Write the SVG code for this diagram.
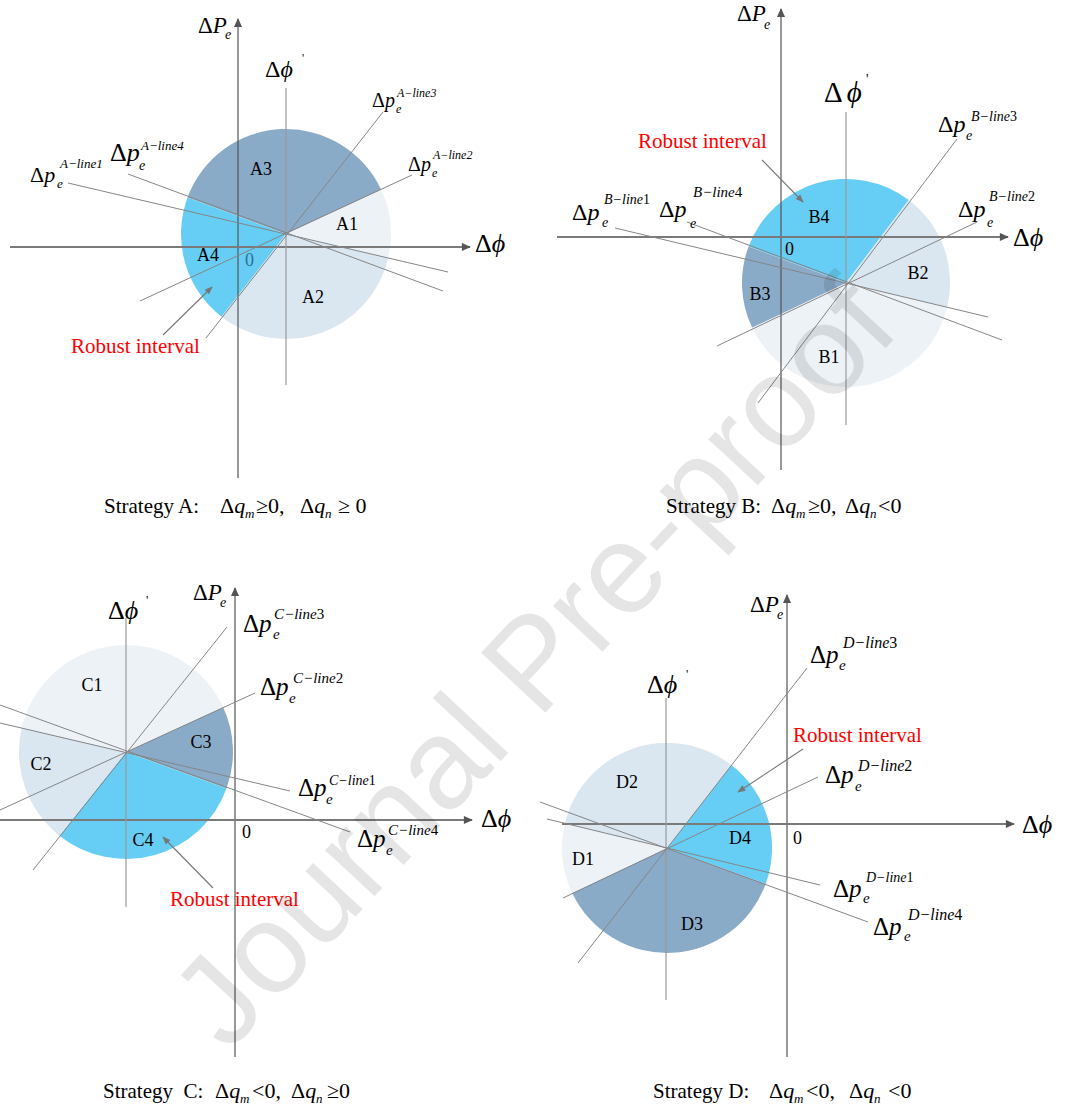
<svg xmlns="http://www.w3.org/2000/svg" width="1078" height="1113" viewBox="0 0 1078 1113">
<style>
text{font-family:"Liberation Serif","DejaVu Serif","Times New Roman",serif;fill:#000}
.i{font-style:italic}
.dark{fill:#8aabc8}
.cyan{fill:#66cef4}
.med{fill:#dae6f0}
.light{fill:#edf2f7}
.ax{stroke:#555;stroke-width:1.2;fill:none}
.axh{stroke:#7a7a7a;stroke-width:2;fill:none}
.axp{stroke:#9a9a9a;stroke-width:1.2;fill:none}
.ln{stroke:#858585;stroke-width:1;fill:none}
.arr{stroke:#777;stroke-width:1.1;fill:none}
.sec{font-size:18px;text-anchor:middle}
.zero{font-size:18px}
.red{fill:#ff0000;font-size:21px}
.strat{font-size:21px}
.wm{font-family:"Liberation Sans",Arial,sans-serif;font-size:128px;fill:#000;fill-opacity:0.1;text-anchor:middle}
</style>
<defs>
<marker id="ah" viewBox="0 0 10 10" refX="9" refY="5" markerWidth="10" markerHeight="9" markerUnits="userSpaceOnUse" orient="auto"><path d="M0,0.5 L10,5 L0,9.5 Z" fill="#555"/></marker>
<marker id="sh" viewBox="0 0 10 10" refX="9" refY="5" markerWidth="9" markerHeight="8" markerUnits="userSpaceOnUse" orient="auto"><path d="M0,1 L10,5 L0,9 Z" fill="#777"/></marker>
</defs>
<rect width="1078" height="1113" fill="#fff"/>

<!-- ================= Strategy A ================= -->
<g id="sectorsA">
<path id="A3" class="dark" d="M286,234 L187.5,197.6 A105,105 0 0 1 381.2,189.8 Z"/>
<path id="A1" class="light" d="M286,234 L381.2,189.8 A105,105 0 0 1 388.2,258 Z"/>
<path id="A2" class="med" d="M286,234 L388.2,258 A105,105 0 0 1 221.4,316.7 Z"/>
<path id="A4" class="cyan" d="M286,234 L221.4,316.7 A105,105 0 0 1 187.5,197.6 Z"/>
</g>
<g id="connectorsA">
<line class="ax" x1="238" y1="478" x2="238" y2="19" marker-end="url(#ah)"/>
<line class="axh" x1="10" y1="247" x2="470" y2="247" marker-end="url(#ah)"/>
<line class="axp" x1="286" y1="88" x2="286" y2="385"/>
<line class="ln" x1="68" y1="183" x2="448" y2="272"/>
<line class="ln" x1="128" y1="174" x2="443" y2="291"/>
<line class="ln" x1="412" y1="175" x2="140" y2="301"/>
<line class="ln" x1="383" y1="112" x2="206" y2="338"/>
<line class="arr" x1="163" y1="335" x2="212" y2="287" marker-end="url(#sh)"/>
</g>
<g id="labelsA">
<text x="198" y="33" font-size="23">Δ<tspan class="i">P</tspan></text>
<text class="i" x="225" y="39" font-size="14">e</text>
<text x="475" y="252" font-size="26">Δ<tspan class="i">ϕ</tspan></text>
<text x="265" y="77" font-size="24">Δ<tspan class="i">ϕ</tspan></text>
<text x="302" y="62" font-size="12">'</text>
<text x="372" y="107" font-size="20">Δ<tspan class="i">p</tspan></text>
<text class="i" x="396" y="113" font-size="12">e</text>
<text class="i" x="397" y="97" font-size="12">A−line3</text>
<text x="408" y="171" font-size="20">Δ<tspan class="i">p</tspan></text>
<text class="i" x="432" y="177" font-size="12">e</text>
<text class="i" x="433" y="159" font-size="12">A−line2</text>
<text x="110" y="161" font-size="26">Δ<tspan class="i">p</tspan></text>
<text class="i" x="139" y="170" font-size="14">e</text>
<text class="i" x="141" y="150" font-size="13">A−line4</text>
<text x="30" y="182" font-size="22">Δ<tspan class="i">p</tspan></text>
<text class="i" x="57" y="188" font-size="13">e</text>
<text class="i" x="60" y="168" font-size="13">A−line1</text>
<text class="sec" x="261" y="175">A3</text>
<text class="sec" x="347" y="230">A1</text>
<text class="sec" x="208" y="261">A4</text>
<text class="sec" x="313" y="303">A2</text>
<text class="zero" x="245" y="266" style="fill:#2f6f93">0</text>
<text class="red" x="71" y="353">Robust interval</text>
<text class="strat" x="104" y="513">Strategy A:</text>
<text x="220" y="513" font-size="22">Δ<tspan class="i">q</tspan></text>
<text class="i" x="245" y="518" font-size="13">m</text>
<text x="256" y="513" font-size="22">≥0,</text>
<text x="300" y="513" font-size="22">Δ<tspan class="i">q</tspan></text>
<text class="i" x="325" y="518" font-size="13">n</text>
<text x="338" y="513" font-size="22">≥ 0</text>
</g>

<!-- ================= Strategy B ================= -->
<g id="sectorsB">
<path id="B4" class="cyan" d="M846,283 L748.6,246.4 A104,104 0 0 1 908.7,200 Z"/>
<path id="B2" class="med" d="M846,283 L908.7,200 A104,104 0 0 1 947.2,307.1 Z"/>
<path id="B1" class="light" d="M846,283 L947.2,307.1 A104,104 0 0 1 752.1,327.6 Z"/>
<path id="B3" class="dark" d="M846,283 L752.1,327.6 A104,104 0 0 1 748.6,246.4 Z"/>
</g>
<g id="connectorsB">
<line class="ax" x1="781" y1="470" x2="781" y2="9" marker-end="url(#ah)"/>
<line class="axh" x1="557" y1="237" x2="1008" y2="237" marker-end="url(#ah)"/>
<line class="axp" x1="846" y1="112" x2="846" y2="425"/>
<line class="ln" x1="615" y1="228" x2="988" y2="317"/>
<line class="ln" x1="687" y1="222" x2="1002" y2="340"/>
<line class="ln" x1="977" y1="222" x2="717" y2="346"/>
<line class="ln" x1="957" y1="139" x2="758" y2="403"/>
<line class="arr" x1="762" y1="160" x2="803" y2="202" marker-end="url(#sh)"/>
</g>
<g id="labelsB">
<text x="737" y="21" font-size="23">Δ<tspan class="i">P</tspan></text>
<text class="i" x="764" y="29" font-size="14">e</text>
<text x="1013" y="246" font-size="26">Δ<tspan class="i">ϕ</tspan></text>
<text x="824" y="102" font-size="29">Δ<tspan class="i" dx="4">ϕ</tspan></text>
<text x="866" y="84" font-size="14">'</text>
<text x="572" y="220" font-size="24">Δ<tspan class="i">p</tspan></text>
<text class="i" x="602" y="227" font-size="14">e</text>
<text x="604" y="204" font-size="14"><tspan class="i">B−line</tspan>1</text>
<text x="659" y="217" font-size="24">Δ<tspan class="i">p</tspan></text>
<text class="i" x="690" y="228" font-size="14">e</text>
<text x="693" y="197" font-size="15"><tspan class="i">B−line</tspan>4</text>
<text x="938" y="132" font-size="24">Δ<tspan class="i">p</tspan></text>
<text class="i" x="966" y="140" font-size="14">e</text>
<text x="971" y="121" font-size="14"><tspan class="i">B−line</tspan>3</text>
<text x="958" y="217" font-size="24">Δ<tspan class="i">p</tspan></text>
<text class="i" x="987" y="227" font-size="14">e</text>
<text x="989" y="201" font-size="14"><tspan class="i">B−line</tspan>2</text>
<text class="sec" x="819" y="223">B4</text>
<text class="sec" x="918" y="279">B2</text>
<text class="sec" x="760" y="300">B3</text>
<text class="sec" x="829" y="363">B1</text>
<text class="zero" x="785" y="255">0</text>
<text class="red" x="638" y="148">Robust interval</text>
<text class="strat" x="666" y="513">Strategy B:</text>
<text x="771" y="513" font-size="22">Δ<tspan class="i">q</tspan></text>
<text class="i" x="796" y="518" font-size="13">m</text>
<text x="808" y="513" font-size="22">≥0,</text>
<text x="845" y="513" font-size="22">Δ<tspan class="i">q</tspan></text>
<text class="i" x="870" y="518" font-size="13">n</text>
<text x="878" y="513" font-size="22">&lt;0</text>
</g>

<!-- ================= Strategy C ================= -->
<g id="sectorsC">
<path id="C3" class="dark" d="M126,752 L223.2,707.3 A107,107 0 0 1 226.5,788.6 Z"/>
<path id="C4" class="cyan" d="M126,752 L226.5,788.6 A107,107 0 0 1 59.4,835.7 Z"/>
<path id="C2" class="med" d="M126,752 L59.4,835.7 A107,107 0 0 1 21.8,727.6 Z"/>
<path id="C1" class="light" d="M126,752 L21.8,727.6 A107,107 0 0 1 223.2,707.3 Z"/>
</g>
<g id="connectorsC">
<line class="ax" x1="235" y1="1057" x2="235" y2="588" marker-end="url(#ah)"/>
<line class="axh" x1="0" y1="820" x2="472" y2="820" marker-end="url(#ah)"/>
<line class="axp" x1="126" y1="618" x2="126" y2="907"/>
<line class="ln" x1="227" y1="627" x2="33" y2="870"/>
<line class="ln" x1="255" y1="693" x2="0" y2="810"/>
<line class="ln" x1="290" y1="791" x2="0" y2="723"/>
<line class="ln" x1="350" y1="832" x2="0" y2="705"/>
<line class="arr" x1="213" y1="888" x2="163" y2="837" marker-end="url(#sh)"/>
</g>
<g id="labelsC">
<text x="193" y="600" font-size="23">Δ<tspan class="i">P</tspan></text>
<text class="i" x="220" y="607" font-size="14">e</text>
<text x="481" y="827" font-size="26">Δ<tspan class="i">ϕ</tspan></text>
<text x="108" y="619" font-size="26">Δ<tspan class="i">ϕ</tspan></text>
<text x="146" y="604" font-size="13">'</text>
<text x="243" y="632" font-size="25">Δ<tspan class="i">p</tspan></text>
<text class="i" x="273" y="639" font-size="15">e</text>
<text x="274" y="619" font-size="15"><tspan class="i">C−line</tspan>3</text>
<text x="260" y="695" font-size="25">Δ<tspan class="i">p</tspan></text>
<text class="i" x="289" y="703" font-size="15">e</text>
<text x="293" y="683" font-size="15"><tspan class="i">C−line</tspan>2</text>
<text x="298" y="796" font-size="25">Δ<tspan class="i">p</tspan></text>
<text class="i" x="326" y="804" font-size="15">e</text>
<text x="329" y="785" font-size="14"><tspan class="i">C−line</tspan>1</text>
<text x="357" y="847" font-size="25">Δ<tspan class="i">p</tspan></text>
<text class="i" x="386" y="855" font-size="15">e</text>
<text x="388" y="835" font-size="15"><tspan class="i">C−line</tspan>4</text>
<text class="sec" x="92" y="691">C1</text>
<text class="sec" x="41" y="770">C2</text>
<text class="sec" x="201" y="748">C3</text>
<text class="sec" x="143" y="846">C4</text>
<text class="zero" x="242" y="838">0</text>
<text class="red" x="170" y="906">Robust interval</text>
<text class="strat" x="103" y="1098" xml:space="preserve">Strategy  C:</text>
<text x="215" y="1098" font-size="22">Δ<tspan class="i">q</tspan></text>
<text class="i" x="240" y="1103" font-size="13">m</text>
<text x="252" y="1098" font-size="22">&lt;0,</text>
<text x="291" y="1098" font-size="22">Δ<tspan class="i">q</tspan></text>
<text class="i" x="316" y="1103" font-size="13">n</text>
<text x="327" y="1098" font-size="22">≥0</text>
</g>

<!-- ================= Strategy D ================= -->
<g id="sectorsD">
<path id="D4" class="cyan" d="M667,848 L731.4,765 A105,105 0 0 1 765.7,883.9 Z"/>
<path id="D3" class="dark" d="M667,848 L765.7,883.9 A105,105 0 0 1 572.2,893 Z"/>
<path id="D1" class="light" d="M667,848 L572.2,893 A105,105 0 0 1 564.9,823.5 Z"/>
<path id="D2" class="med" d="M667,848 L564.9,823.5 A105,105 0 0 1 731.4,765 Z"/>
</g>
<g id="connectorsD">
<line class="ax" x1="787" y1="1057" x2="787" y2="595" marker-end="url(#ah)"/>
<line class="axh" x1="562" y1="824" x2="1014" y2="824" marker-end="url(#ah)"/>
<line class="axp" x1="666" y1="698" x2="666" y2="1000"/>
<line class="ln" x1="807" y1="668" x2="578" y2="963"/>
<line class="ln" x1="818" y1="777" x2="563" y2="898"/>
<line class="ln" x1="820" y1="885" x2="547" y2="819"/>
<line class="ln" x1="868" y1="922" x2="540" y2="802"/>
<line class="arr" x1="803" y1="749" x2="738" y2="792" marker-end="url(#sh)"/>
</g>
<g id="labelsD">
<text x="750" y="612" font-size="23">Δ<tspan class="i">P</tspan></text>
<text class="i" x="777" y="619" font-size="14">e</text>
<text x="1022" y="833" font-size="26">Δ<tspan class="i">ϕ</tspan></text>
<text x="647" y="693" font-size="26">Δ<tspan class="i">ϕ</tspan></text>
<text x="686" y="678" font-size="13">'</text>
<text x="810" y="663" font-size="25">Δ<tspan class="i">p</tspan></text>
<text class="i" x="839" y="670" font-size="15">e</text>
<text x="843" y="648" font-size="16"><tspan class="i">D−line</tspan>3</text>
<text x="825" y="783" font-size="25">Δ<tspan class="i">p</tspan></text>
<text class="i" x="855" y="791" font-size="15">e</text>
<text x="858" y="771" font-size="16"><tspan class="i">D−line</tspan>2</text>
<text x="833" y="897" font-size="25">Δ<tspan class="i">p</tspan></text>
<text class="i" x="863" y="903" font-size="15">e</text>
<text x="866" y="882" font-size="14"><tspan class="i">D−line</tspan>1</text>
<text x="873" y="935" font-size="25">Δ<tspan class="i">p</tspan></text>
<text class="i" x="904" y="941" font-size="15">e</text>
<text x="908" y="920" font-size="16"><tspan class="i">D−line</tspan>4</text>
<text class="sec" x="627" y="788">D2</text>
<text class="sec" x="583" y="865">D1</text>
<text class="sec" x="740" y="844">D4</text>
<text class="sec" x="692" y="930">D3</text>
<text class="zero" x="793" y="844">0</text>
<text class="red" x="793" y="742">Robust interval</text>
<text class="strat" x="653" y="1098">Strategy D:</text>
<text x="769" y="1098" font-size="22">Δ<tspan class="i">q</tspan></text>
<text class="i" x="794" y="1103" font-size="13">m</text>
<text x="806" y="1098" font-size="22">&lt;0,</text>
<text x="849" y="1098" font-size="22">Δ<tspan class="i">q</tspan></text>
<text class="i" x="874" y="1103" font-size="13">n</text>
<text x="888" y="1098" font-size="22">&lt;0</text>
</g>

<g id="watermark">
<text class="wm" transform="translate(565,692) rotate(-47)" x="0" y="0">Journal Pre-proof</text>
</g>
</svg>
